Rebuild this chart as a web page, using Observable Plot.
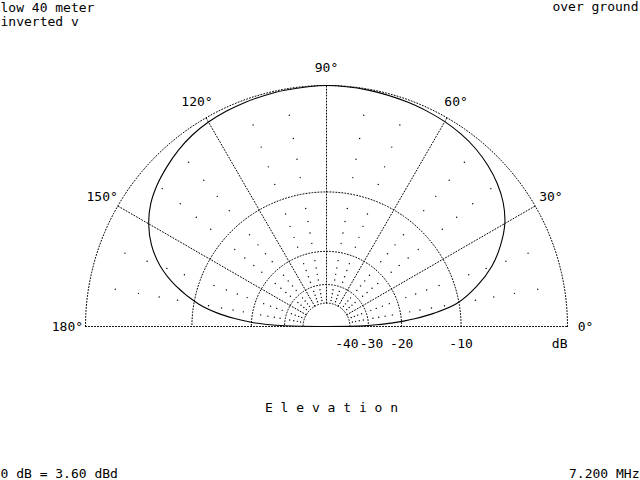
<!DOCTYPE html>
<html><head><meta charset="utf-8">
<script src="https://cdn.jsdelivr.net/npm/d3@7"></script>
<script src="https://cdn.jsdelivr.net/npm/@observablehq/plot@0.6"></script>
<style>body{margin:0;background:#fff}</style>
</head><body><div id="chart"></div>
<script>
// ---- data ----
const titleLeft = "low 40 meter\ninverted v";
const titleRight = "over ground";
const footLeft = "0 dB = 3.60 dBd";
const footRight = "7.200 MHz";
const plotTitle = "E l e v a t i o n";

const elevation = [0,1,2,3,4,5,7,10,15,20,25,30,35,40,45,50,55,60,65,70,80,90,
  100,105,110,115,120,125,130,135,140,145,150,155,160,165,170,173,175,177,178,179,180];
const gainDb = [-99,-32,-27,-22.5,-19.5,-17.2,-13.8,-10.3,-7.5,-5.4,-3.9,-2.7,-1.9,-1.35,-0.95,-0.65,-0.45,-0.32,-0.24,-0.17,-0.07,0,
  -0.08,-0.13,-0.18,-0.25,-0.35,-0.52,-0.78,-1.12,-1.5,-2.0,-2.75,-3.8,-5.3,-7.5,-10.6,-13.5,-16.5,-20.5,-24,-30,-99];

const ringDb = [0,-10,-20,-30,-40];
const ringLabelDb = [-40,-30,-20,-10];
const ringLabels = ["-40","-30","-20","-10"];
const dbUnit = "dB";
const spokeAngles = [30,60,90,120,150];
const labelAngles = [0,30,60,90,120,150,180];
const angleLabels = ["0°","30°","60°","90°","120°","150°","180°"];
const dotAngles = [10,20,40,50,70,80,100,110,130,140,160,170];
const dotDb = [-2,-4,-6,-8,-12,-14,-16,-18,-22,-24,-26,-28,-32,-34,-36,-38];

// ---- helpers (ARRL log scale) ----
const rho = db => Math.pow(0.89, -db / 2);
const rad = a => a * Math.PI / 180;
const px = (a, r) => r * Math.cos(rad(a));
const py = (a, r) => r * Math.sin(rad(a));

// layout
const W = 640, H = 480, CX = 326, CY = 326, R = 241;
const font = "DejaVu Sans Mono";

const pattern = elevation.map((a, i) => ({x: px(a, rho(gainDb[i])), y: py(a, rho(gainDb[i]))}));

const rings = [];
for (const db of ringDb) for (let a = 0; a <= 180; a += 1) rings.push({db, x: px(a, rho(db)), y: py(a, rho(db))});

const spokes = [];
for (const a of spokeAngles) {
  spokes.push({a, x: px(a, rho(-40)), y: py(a, rho(-40))});
  spokes.push({a, x: px(a, 1), y: py(a, 1)});
}
const baseline = [{x: -1, y: 0}, {x: 1, y: 0}];

const dots = [];
for (const a of dotAngles) for (const db of dotDb) dots.push({x: px(a, rho(db)), y: py(a, rho(db))});

const angleText = labelAngles.map((a, i) => ({x: px(a, 1.075), y: py(a, 1.075), t: angleLabels[i]}));
const ringText = ringLabelDb.map((db, i) => ({x: rho(db), y: 0, t: ringLabels[i], db}));

const dash = "1,2";
const txt = {fontSize: 13, fontFamily: font, fill: "#000"};
const chart = Plot.plot({
  width: W, height: H, margin: 0,
  style: {background: "#fff", fontFamily: font},
  x: {domain: [-CX / R, (W - CX) / R], range: [0, W], axis: null},
  y: {domain: [-(H - CY) / R, CY / R], range: [H, 0], axis: null},
  marks: [
    Plot.line(rings, {x: "x", y: "y", z: "db", stroke: "#000", strokeWidth: 1, strokeDasharray: dash}),
    Plot.line(spokes, {x: "x", y: "y", z: "a", stroke: "#000", strokeWidth: 1, strokeDasharray: dash}),
    Plot.line(baseline, {x: "x", y: "y", stroke: "#000", strokeWidth: 1, strokeDasharray: dash}),
    Plot.dot(dots, {x: "x", y: "y", r: 0.7, fill: "#000", stroke: null}),
    Plot.line(pattern, {x: "x", y: "y", stroke: "#000", strokeWidth: 1.1, curve: "catmull-rom"}),
    Plot.text(angleText, {x: "x", y: "y", text: "t", ...txt}),
    Plot.text(ringText.filter(d => d.db === -40), {x: "x", y: "y", text: "t", dy: 17, dx: -3, ...txt}),
    Plot.text(ringText.filter(d => d.db === -30), {x: "x", y: "y", text: "t", dy: 17, dx: 3, ...txt}),
    Plot.text(ringText.filter(d => d.db <= -10 && d.db >= -20), {x: "x", y: "y", text: "t", dy: 17, dx: 0, ...txt}),
    Plot.text([dbUnit], {x: [1], y: [0], text: d => d, dy: 17, textAnchor: "end", ...txt}),
    Plot.text([plotTitle], {x: [(331 - CX) / R], y: [-(407 - CY) / R], text: d => d, ...txt}),
    Plot.text([titleLeft], {frameAnchor: "top-left", text: d => d, dx: 0, dy: 1, lineAnchor: "top", lineHeight: 1.1, ...txt}),
    Plot.text([titleRight], {frameAnchor: "top-right", text: d => d, dx: -2, dy: 1, lineAnchor: "top", ...txt}),
    Plot.text([footLeft], {frameAnchor: "bottom-left", text: d => d, dx: 0, dy: -3, lineAnchor: "bottom", ...txt}),
    Plot.text([footRight], {frameAnchor: "bottom-right", text: d => d, dx: -1, dy: -3, lineAnchor: "bottom", ...txt})
  ]
});
document.getElementById("chart").appendChild(chart);
</script>
</body></html>
